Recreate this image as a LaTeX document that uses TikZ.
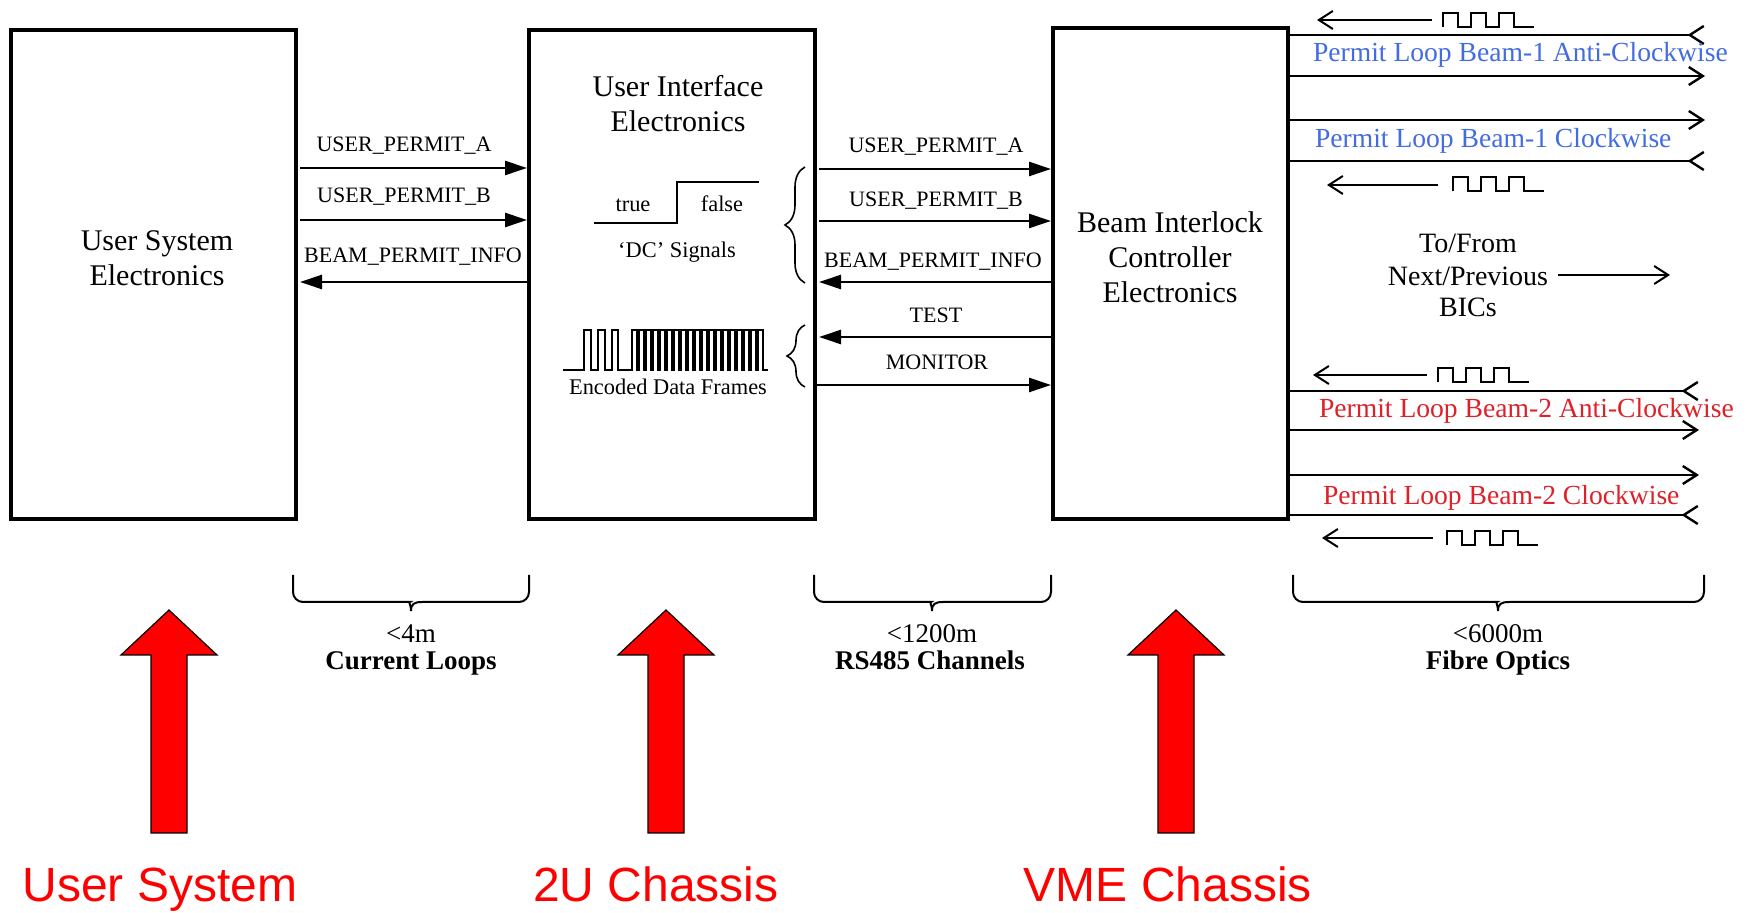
\documentclass[tikz,border=0pt]{standalone}
\usepackage{fontspec}
\setmainfont{Liberation Serif}
\newfontfamily\labelsans{Liberation Sans}
\usetikzlibrary{arrows.meta,decorations.pathreplacing}

\definecolor{loopblue}{RGB}{66,108,224}
\definecolor{loopred}{RGB}{222,32,40}
\definecolor{chassisred}{RGB}{255,0,0}

\tikzset{
  unit/.style={draw, line width=2pt, inner sep=0pt, outer sep=0pt},
  txt/.style={inner sep=0pt, outer sep=0pt, anchor=base},
  lbl/.style={txt, font=\fontsize{11}{13}\selectfont},
  ttl/.style={txt, font=\fontsize{15}{18}\selectfont},
  note/.style={txt, font=\fontsize{11.2}{13}\selectfont},
  farlbl/.style={txt, font=\fontsize{14}{16}\selectfont},
  looplbl/.style={txt, anchor=base west, font=\fontsize{13.8}{16}\selectfont},
  dist/.style={txt, font=\fontsize{13.5}{16}\selectfont},
  distb/.style={txt, font=\fontsize{13.5}{16}\selectfont\bfseries},
  sig/.style={line width=1.3pt, -{Triangle[length=11pt,width=7pt]}},
  wave/.style={line width=1.3pt, line join=miter},
  finewave/.style={line width=1pt, line join=miter},
  fwd/.style={line width=1.2pt, -{Straight Barb[length=7pt,width=9pt]}},
  bwd/.style={line width=1.2pt, -{Straight Barb[reversed,length=7pt,width=9pt]}},
  hint/.style={line width=1pt, -{Straight Barb[length=7pt,width=9pt]}},
  chassis/.style={txt, text=chassisred, font=\labelsans\fontsize{24}{28}\selectfont},
  bigarrow/.style={fill=chassisred, draw=black, line width=0.6pt},
  bracket/.style={line width=1pt},
  pics/pulses/.style={code={
    \draw[line width=1pt] (0,7) -- (0,-7) -- (15,-7) -- (15,7) -- (28,7) -- (28,-7)
      -- (43,-7) -- (43,7) -- (56,7) -- (56,-7) -- (71,-7) -- (71,7) -- (91,7);}},
  pics/uparrow/.style={code={
    \draw[bigarrow] (0,0) -- (48,45) -- (18,45) -- (18,223) -- (-18,223)
      -- (-18,45) -- (-48,45) -- cycle;}},
}

\begin{document}
\begin{tikzpicture}[x=0.5pt,y=-0.5pt]
\useasboundingbox (0,0) rectangle (1751,913);

% the three units
\node[unit, minimum width=142.5pt, minimum height=244.5pt] (usr) at (153.5,274.5) {};
\node[unit, minimum width=143pt, minimum height=244.5pt] (uie) at (672,274.5) {};
\node[unit, minimum width=117.5pt, minimum height=245.5pt] (bic) at (1170.5,273.5) {};

\node[ttl] (usr1) at (157,251) {User System};
\node[ttl] (usr2) at (157,286) {Electronics};
\node[ttl] (uie1) at (678,97) {User Interface};
\node[ttl] (uie2) at (678,132) {Electronics};
\node[ttl] (bic1) at (1170,233) {Beam Interlock};
\node[ttl] (bic2) at (1170,268) {Controller};
\node[ttl] (bic3) at (1170,303) {Electronics};

% current loops between user system and interface
\draw[sig, shorten <=2pt, shorten >=1pt] (usr.east |- 0,168) -- (uie.west |- 0,168);
\draw[sig, shorten <=2pt, shorten >=1pt] (usr.east |- 0,220) -- (uie.west |- 0,220);
\draw[sig, shorten <=1pt, shorten >=2pt] (uie.west |- 0,282) -- (usr.east |- 0,282);
\node[lbl] (ua1) at (404,152) {USER\_PERMIT\_A};
\node[lbl] (ub1) at (404,203) {USER\_PERMIT\_B};
\node[lbl] (bp1) at (413,263) {BEAM\_PERMIT\_INFO};

% RS485 channels between interface and controller
\draw[sig, shorten <=2pt, shorten >=1pt] (uie.east |- 0,169) -- (bic.west |- 0,169);
\draw[sig, shorten <=2pt, shorten >=1pt] (uie.east |- 0,221) -- (bic.west |- 0,221);
\draw[sig, shorten <=1pt, shorten >=2pt] (bic.west |- 0,282) -- (uie.east |- 0,282);
\draw[sig, shorten <=1pt, shorten >=2pt] (bic.west |- 0,337) -- (uie.east |- 0,337);
\draw[sig, shorten <=1pt, shorten >=1pt] (uie.east |- 0,385) -- (bic.west |- 0,385);
\node[lbl] (ua2) at (936,153) {USER\_PERMIT\_A};
\node[lbl] (ub2) at (936,207) {USER\_PERMIT\_B};
\node[lbl] (bp2) at (933,268) {BEAM\_PERMIT\_INFO};
\node[lbl] (tst) at (936,323) {TEST};
\node[lbl] (mon) at (937,370) {MONITOR};

% signal sketches inside the interface
\draw[wave] (594,223) -- (677,223) -- (677,182) -- (759,182);
\node[note] (tru) at (633,212) {true};
\node[note] (fls) at (722,212) {false};
\node[note] (dcs) at (677,258) {`DC' Signals};
\draw[line width=0.8pt, decorate, decoration={brace, amplitude=10pt}] (805,283) -- (805,167);

\draw[finewave] (563,370) -- (584,370) -- (584,330) -- (591,330) -- (591,370) -- (598,370)
  -- (598,330) -- (605,330) -- (605,370) -- (612,370) -- (612,330) -- (618,330)
  -- (618,370) -- (632,370)
  \foreach \k in {1,...,19}{ -- ++(0,-40) -- ++(5,0) -- ++(0,40) -- ++(2,0) }
  -- (768,370);
\node[note] (edf) at (668,395) {Encoded Data Frames};
\draw[line width=0.8pt, decorate, decoration={brace, amplitude=9pt}] (805,387) -- (805,325);

% fibre optic permit loops
\coordinate (f1) at (1705,35);
\coordinate (f2) at (1705,76);
\coordinate (f3) at (1705,120);
\coordinate (f4) at (1705,161);
\coordinate (f5) at (1699,391);
\coordinate (f6) at (1699,430);
\coordinate (f7) at (1699,475);
\coordinate (f8) at (1699,515);
\draw[bwd] (bic.east |- f1) -- (f1);
\draw[fwd] (bic.east |- f2) -- (f2);
\draw[fwd] (bic.east |- f3) -- (f3);
\draw[bwd] (bic.east |- f4) -- (f4);
\draw[bwd] (bic.east |- f5) -- (f5);
\draw[fwd] (bic.east |- f6) -- (f6);
\draw[fwd] (bic.east |- f7) -- (f7);
\draw[bwd] (bic.east |- f8) -- (f8);
\node[looplbl, text=loopblue] (b1a) at (1313,62) {Permit Loop Beam-1 Anti-Clockwise};
\node[looplbl, text=loopblue] (b1c) at (1315,148) {Permit Loop Beam-1 Clockwise};
\node[looplbl, text=loopred] (b2a) at (1319,418) {Permit Loop Beam-2 Anti-Clockwise};
\node[looplbl, text=loopred] (b2c) at (1323,505) {Permit Loop Beam-2 Clockwise};

% incoming frame sketches
\pic at (1443,20) {pulses};
\coordinate (s1s) at (1432,20); \coordinate (s1t) at (1317,20);
\draw[hint] (s1s) -- (s1t);
\pic at (1453,184.5) {pulses};
\coordinate (s2s) at (1438,185); \coordinate (s2t) at (1327,185);
\draw[hint] (s2s) -- (s2t);
\pic at (1438,375.5) {pulses};
\coordinate (s3s) at (1427,375); \coordinate (s3t) at (1313,375);
\draw[hint] (s3s) -- (s3t);
\pic at (1447,538) {pulses};
\coordinate (s4s) at (1433,538); \coordinate (s4t) at (1322,538);
\draw[hint] (s4s) -- (s4t);

\node[farlbl] (nx1) at (1468,253) {To/From};
\node[farlbl] (nx2) at (1468,286) {Next/Previous};
\node[farlbl] (nx3) at (1468,317) {BICs};
\coordinate (nxs) at (1558,275); \coordinate (nxt) at (1670,275);
\draw[hint] (nxs) -- (nxt);

% distance brackets
\draw[bracket] (293,575) [rounded corners=5pt] -- (293,602) -- (400,602) [sharp corners]
  .. controls (408,602) and (411,604) .. (411,611)
  .. controls (411,604) and (414,602) .. (422,602) [rounded corners=5pt]
  -- (529,602) -- (529,575);
\draw[bracket] (814,575) [rounded corners=5pt] -- (814,602) -- (921,602) [sharp corners]
  .. controls (929,602) and (932,604) .. (932,611)
  .. controls (932,604) and (935,602) .. (943,602) [rounded corners=5pt]
  -- (1051,602) -- (1051,575);
\draw[bracket] (1293,575) [rounded corners=5pt] -- (1293,602) -- (1487,602) [sharp corners]
  .. controls (1495,602) and (1498,604) .. (1498,611)
  .. controls (1498,604) and (1501,602) .. (1509,602) [rounded corners=5pt]
  -- (1704,602) -- (1704,575);
\node[dist] (d1) at (411,643) {\textless4m};
\node[distb] (d1b) at (411,670) {Current Loops};
\node[dist] (d2) at (932,643) {\textless1200m};
\node[distb] (d2b) at (930,670) {RS485 Channels};
\node[dist] (d3) at (1498,643) {\textless6000m};
\node[distb] (d3b) at (1498,670) {Fibre Optics};

% physical housing
\pic at (169,610) {uparrow};
\pic at (666,610) {uparrow};
\pic at (1176,610) {uparrow};
\node[chassis] (c1) at (160,901) {User System};
\node[chassis] (c2) at (656,901) {2U Chassis};
\node[chassis] (c3) at (1168,901) {VME Chassis};
\end{tikzpicture}
\end{document}
